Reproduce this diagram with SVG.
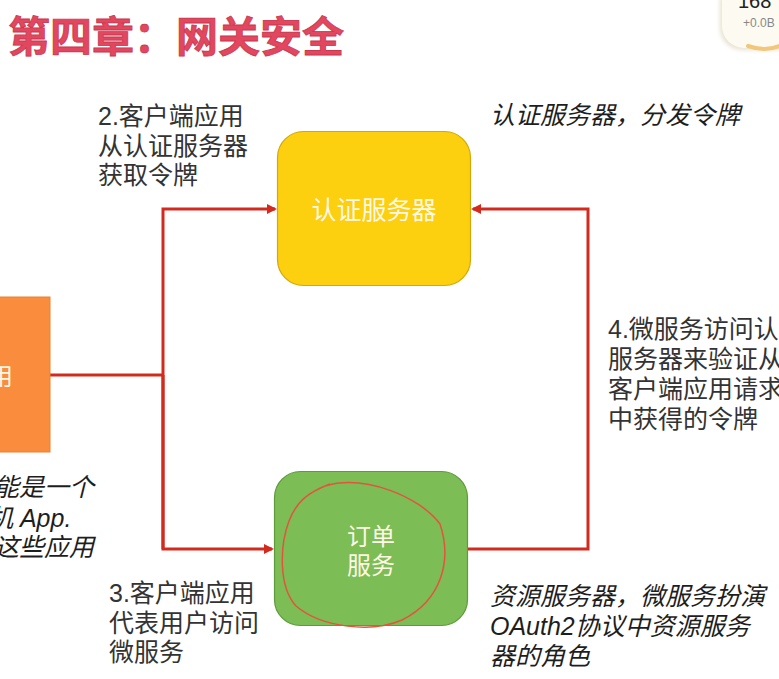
<svg xmlns="http://www.w3.org/2000/svg" width="779" height="679" viewBox="0 0 779 679">
<defs>
<style>
.t{font-family:"Liberation Sans","Noto Sans CJK SC",sans-serif;font-size:25px;fill:#333}
.i{font-family:"Liberation Sans","Noto Sans CJK SC",sans-serif;font-size:25px;fill:#1e1e1e;font-style:italic}
.w{font-family:"Liberation Sans","Noto Sans CJK SC",sans-serif;font-size:24px;fill:#fff8e6}
.c{fill:none;stroke:#d42a1e;stroke-width:3}
</style>
<marker id="ah" markerWidth="10" markerHeight="10" refX="8" refY="5" orient="auto" markerUnits="userSpaceOnUse">
<path d="M0,0 L10,5 L0,10 Z" fill="#d42a1e"/>
</marker>
<filter id="sh" x="-30%" y="-30%" width="160%" height="160%"><feGaussianBlur stdDeviation="2"/></filter>
</defs>
<rect width="779" height="679" fill="#ffffff"/>

<g id="badge">
<rect x="720" y="-20" width="80" height="70" rx="22" fill="#e8e2d2" filter="url(#sh)"/>
<rect x="722" y="-20" width="80" height="68" rx="22" fill="#fdfaf1"/>
<path d="M748,46 Q765,52 779,46" fill="none" stroke="#f2c77a" stroke-width="4" stroke-linecap="round"/>
<text x="738" y="8" style="font-family:'Liberation Sans',sans-serif;font-size:20px;fill:#222">168</text>
<text x="743" y="27" style="font-family:'Liberation Sans',sans-serif;font-size:12px;fill:#888">+0.0B</text>
</g>

<g id="title">
<text x="8" y="52" style="font-family:'Noto Sans CJK SC',sans-serif;font-size:42px;font-weight:bold;fill:#e2475f;stroke:#c8384f;stroke-width:0.8">第四章：网关安全</text>
</g>

<g id="connectors">
<polyline class="c" points="50,375 163,375"/>
<polyline class="c" points="163,549 163,209 275,209" marker-end="url(#ah)"/>
<polyline class="c" points="163,375 163,549 272,549" marker-end="url(#ah)"/>
<polyline class="c" points="468,549 588,549 588,209 473,209" marker-end="url(#ah)"/>
</g>

<g id="client">
<rect x="-10" y="297" width="60" height="155" fill="#f98d3d" stroke="#e9822f" stroke-width="1"/>
<text class="w" x="-11" y="385">用</text>
</g>

<g id="auth-server">
<rect x="277.5" y="131.5" width="193" height="154" rx="26" fill="#fccf0f" stroke="#d4a80a" stroke-width="1.2"/>
<text class="w" x="374" y="219" text-anchor="middle" style="font-size:25px">认证服务器</text>
</g>

<g id="order-service">
<rect x="274.5" y="471.5" width="193" height="154" rx="26" fill="#7cbd55" stroke="#5f9a3c" stroke-width="1.2"/>
<text class="w" x="371" y="545" text-anchor="middle">订单</text>
<text class="w" x="371" y="574" text-anchor="middle">服务</text>
<path d="M325,486 C365,474 420,497 440,524 C452,560 442,600 402,620 C372,633 322,628 296,606 C278,586 280,545 289,521 C296,503 306,493 330,484" fill="none" stroke="#e2553d" stroke-width="1.5"/>
</g>

<g id="labels">
<text class="t"><tspan x="98" y="125">2.客户端应用</tspan><tspan x="98" y="155">从认证服务器</tspan><tspan x="98" y="184">获取令牌</tspan></text>
<text class="i" x="490" y="124">认证服务器，分发令牌</text>
<text class="t"><tspan x="608" y="338">4.微服务访问认</tspan><tspan x="608" y="368">服务器来验证从</tspan><tspan x="608" y="398">客户端应用请求</tspan><tspan x="608" y="428">中获得的令牌</tspan></text>
<text class="i"><tspan x="-6" y="496">能是一个</tspan><tspan x="-12" y="527">机 App.</tspan><tspan x="-6" y="556">这些应用</tspan></text>
<text class="t"><tspan x="109" y="602">3.客户端应用</tspan><tspan x="109" y="632">代表用户访问</tspan><tspan x="109" y="661">微服务</tspan></text>
<text class="i"><tspan x="490" y="605">资源服务器，微服务扮演</tspan><tspan x="490" y="635">OAuth2协议中资源服务</tspan><tspan x="490" y="665">器的角色</tspan></text>
</g>
</svg>
